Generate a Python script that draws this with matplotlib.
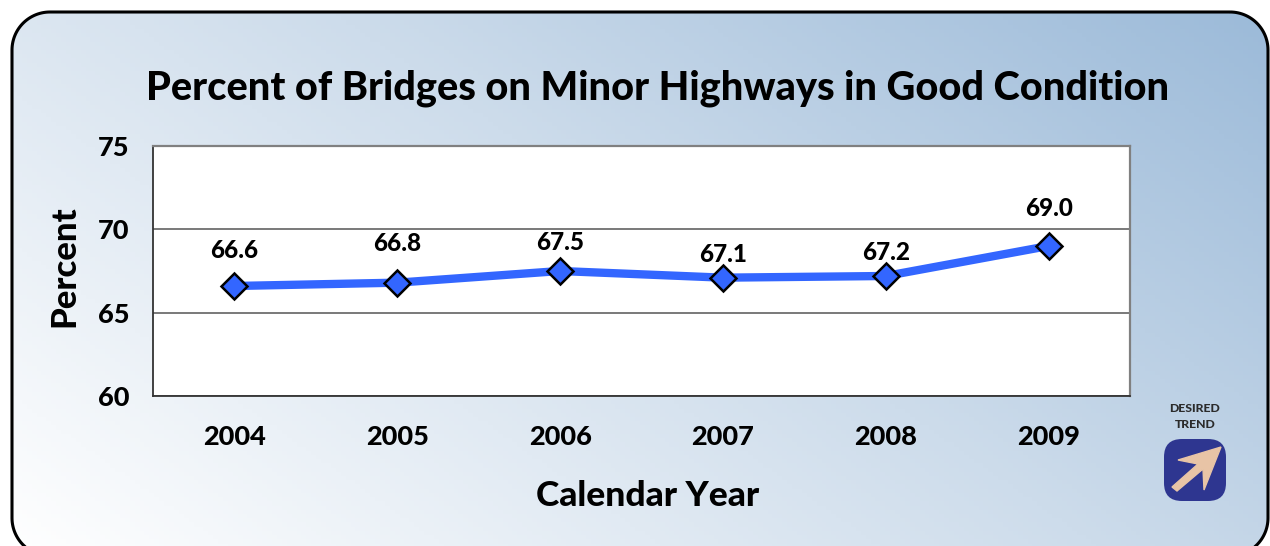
import matplotlib
matplotlib.use('Agg')
import matplotlib.pyplot as plt
import numpy as np
from matplotlib.patches import FancyBboxPatch, Polygon

years = ['2004', '2005', '2006', '2007', '2008', '2009']
percent = [66.6, 66.8, 67.5, 67.1, 67.2, 69.0]
labels = ['66.6', '66.8', '67.5', '67.1', '67.2', '69.0']
label_offsets = [36, 39, 28, 23, 23, 37]
y_ticks = [60, 65, 70, 75]

W, H = 1270, 546
plt.rcParams['font.family'] = ['Lato', 'DejaVu Sans']
plt.rcParams['font.weight'] = 'black'


def rounded_panel(x0, y0, x1, y1, r):
    # plain polygon, curved patches get mangled when they run off the canvas
    a = np.linspace(0, np.pi / 2, 30)
    pts = []
    for cx, cy, start in [(x1 - r, y0 + r, -np.pi / 2), (x1 - r, y1 - r, 0),
                          (x0 + r, y1 - r, np.pi / 2), (x0 + r, y0 + r, np.pi)]:
        pts += list(zip(cx + r * np.cos(start + a), cy + r * np.sin(start + a)))
    return pts


fig = plt.figure(figsize=(W / 100, H / 100), dpi=100, facecolor='white')

# background panel, drawn in pixel coordinates
bg = fig.add_axes([0, 0, 1, 1])
bg.set_xlim(0, W)
bg.set_ylim(H, 0)
bg.axis('off')

xx, yy = np.meshgrid(np.linspace(0, 1, 256), np.linspace(0, 1, 128))
t = (xx * 0.62 + (1 - yy) * 0.38)[..., None]
c0 = np.array([1.0, 1.0, 1.0])
c1 = np.array([0.80, 0.86, 0.92])
c2 = np.array([0.61, 0.73, 0.85])
grad = np.where(t < 0.55, c0 + (c1 - c0) * (t / 0.55), c1 + (c2 - c1) * ((t - 0.55) / 0.45))
im = bg.imshow(grad, extent=[12, 1268, 552, 12], aspect='auto', zorder=1)
box = Polygon(rounded_panel(12, 12, 1268, 556, 38), closed=True, fc='none', ec='black',
              lw=2.2, zorder=2)
bg.add_patch(box)
im.set_clip_path(box)
bg.set_xlim(0, W)
bg.set_ylim(H, 0)

bg.text(658, 88, 'Percent of Bridges on Minor Highways in Good Condition',
        ha='center', va='center', fontsize=28.6, color='black', zorder=3)
bg.text(648, 496, 'Calendar Year', ha='center', va='center', fontsize=25.5, zorder=3)
bg.text(64, 266, 'Percent', ha='center', va='center', rotation=90, fontsize=25, zorder=3)

# desired trend icon
bg.text(1195, 409, 'DESIRED', ha='center', va='center', fontsize=8.8, color='#2b2b2b', zorder=3)
bg.text(1195, 425, 'TREND', ha='center', va='center', fontsize=8.8, color='#2b2b2b', zorder=3)
bg.add_patch(FancyBboxPatch((1164 + 18, 439 + 18), 62 - 36, 62 - 36,
                            boxstyle='round,pad=18,rounding_size=18',
                            fc='#2e3690', ec='none', zorder=3))
bg.add_patch(Polygon([(1221, 447), (1178, 460), (1198, 464), (1172, 487), (1177, 491),
                      (1203, 469), (1204, 490)],
                     closed=True, fc='#e8c4a6', ec='#e8c4a6', lw=1, zorder=4))

# chart
ax = fig.add_axes([153 / W, 1 - 396 / H, (1130 - 153) / W, (396 - 146) / H], facecolor='white')
x = np.arange(len(years))
ax.plot(x, percent, color='#3366ff', lw=6, solid_capstyle='butt', marker='D', ms=13.5,
        mfc='#3366ff', mec='black', mew=1.8, zorder=3)
for i in range(len(years)):
    ax.annotate(labels[i], (x[i], percent[i]), xytext=(0, label_offsets[i] * 0.72),
                textcoords='offset points', ha='center', va='center', fontsize=17.5, zorder=4)

ax.set_xlim(-0.5, 5.5)
ax.set_ylim(60, 75)
ax.set_yticks(y_ticks)
ax.set_xticks(x)
ax.set_xticklabels(years, fontsize=19.5)
ax.tick_params(axis='x', length=0, pad=21)
ax.tick_params(axis='y', length=0, pad=17, labelsize=19.5)
ax.grid(axis='y', color='#555555', lw=1.1, zorder=1)
ax.set_axisbelow(True)
for name in ['top', 'right']:
    ax.spines[name].set_color('#808080')
    ax.spines[name].set_linewidth(1.6)
for name in ['left', 'bottom']:
    ax.spines[name].set_color('#333333')
    ax.spines[name].set_linewidth(1.3)

fig.savefig('out.png', dpi=100)
